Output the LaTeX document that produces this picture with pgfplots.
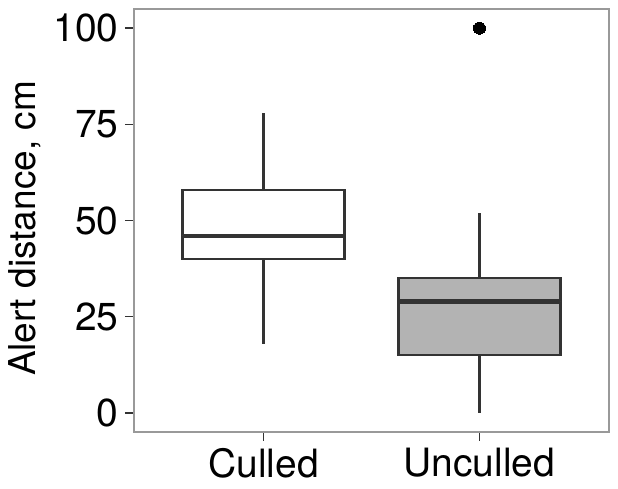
\documentclass[border=0pt]{standalone}
\usepackage{fontspec}
\setmainfont{TeX Gyre Heros}
\usepackage{pgfplots}
\pgfplotsset{compat=1.18}
\usepgfplotslibrary{statistics}
\definecolor{boxline}{HTML}{333333}
\definecolor{boxfill}{HTML}{B3B3B3}
\definecolor{panelborder}{HTML}{999999}
\begin{document}
\begin{tikzpicture}
\begin{axis}[
  at={(0,0)}, anchor=south west,
  scale only axis, width=475pt, height=423pt,
  xmin=0.4, xmax=2.6, ymin=-5, ymax=105,
  xtick={1,2}, xticklabels={Culled,Unculled},
  ytick={0,25,50,75,100},
  tick align=outside, major tick length=9pt,
  tick style={line width=1.6pt, color=boxline},
  xtick pos=bottom, ytick pos=left,
  axis line style={panelborder, line width=1.2pt},
  /pgf/number format/assume math mode=true,
  tick label style={font=\fontsize{39}{44}\selectfont, text=black},
  ylabel={Alert distance, cm},
  label style={font=\fontsize{37}{42}\selectfont, text=black},
  ylabel style={at={([xshift=-98pt,yshift=-8pt]axis description cs:0,0.5)}, anchor=base, rotate=0},
  yticklabel style={xshift=-3pt},
  xticklabel style={yshift=-4pt},
  boxplot/draw direction=y,
  boxplot/box extend=0.75,
  boxplot/whisker extend=0,
  boxplot/every median/.style={line width=4.5pt},
  boxplot/every box/.style={line width=2.2pt},
  boxplot/every whisker/.style={line width=2.2pt},
]
\addplot[draw=boxline, fill=white, line width=2.2pt,
  boxplot prepared={lower whisker=18, lower quartile=40, median=46,
    upper quartile=58, upper whisker=78, draw position=1}]
  coordinates {};
\addplot[draw=boxline, fill=boxfill, line width=2.2pt,
  mark=*, mark size=6pt, mark options={fill=black, draw=black, line width=0pt},
  boxplot prepared={lower whisker=0, lower quartile=15, median=29,
    upper quartile=35, upper whisker=52, draw position=2}]
  coordinates {(0,100)};
\end{axis}
\pgfresetboundingbox
\path (-134pt,-57pt) rectangle (484pt,432pt);
\end{tikzpicture}
\end{document}
